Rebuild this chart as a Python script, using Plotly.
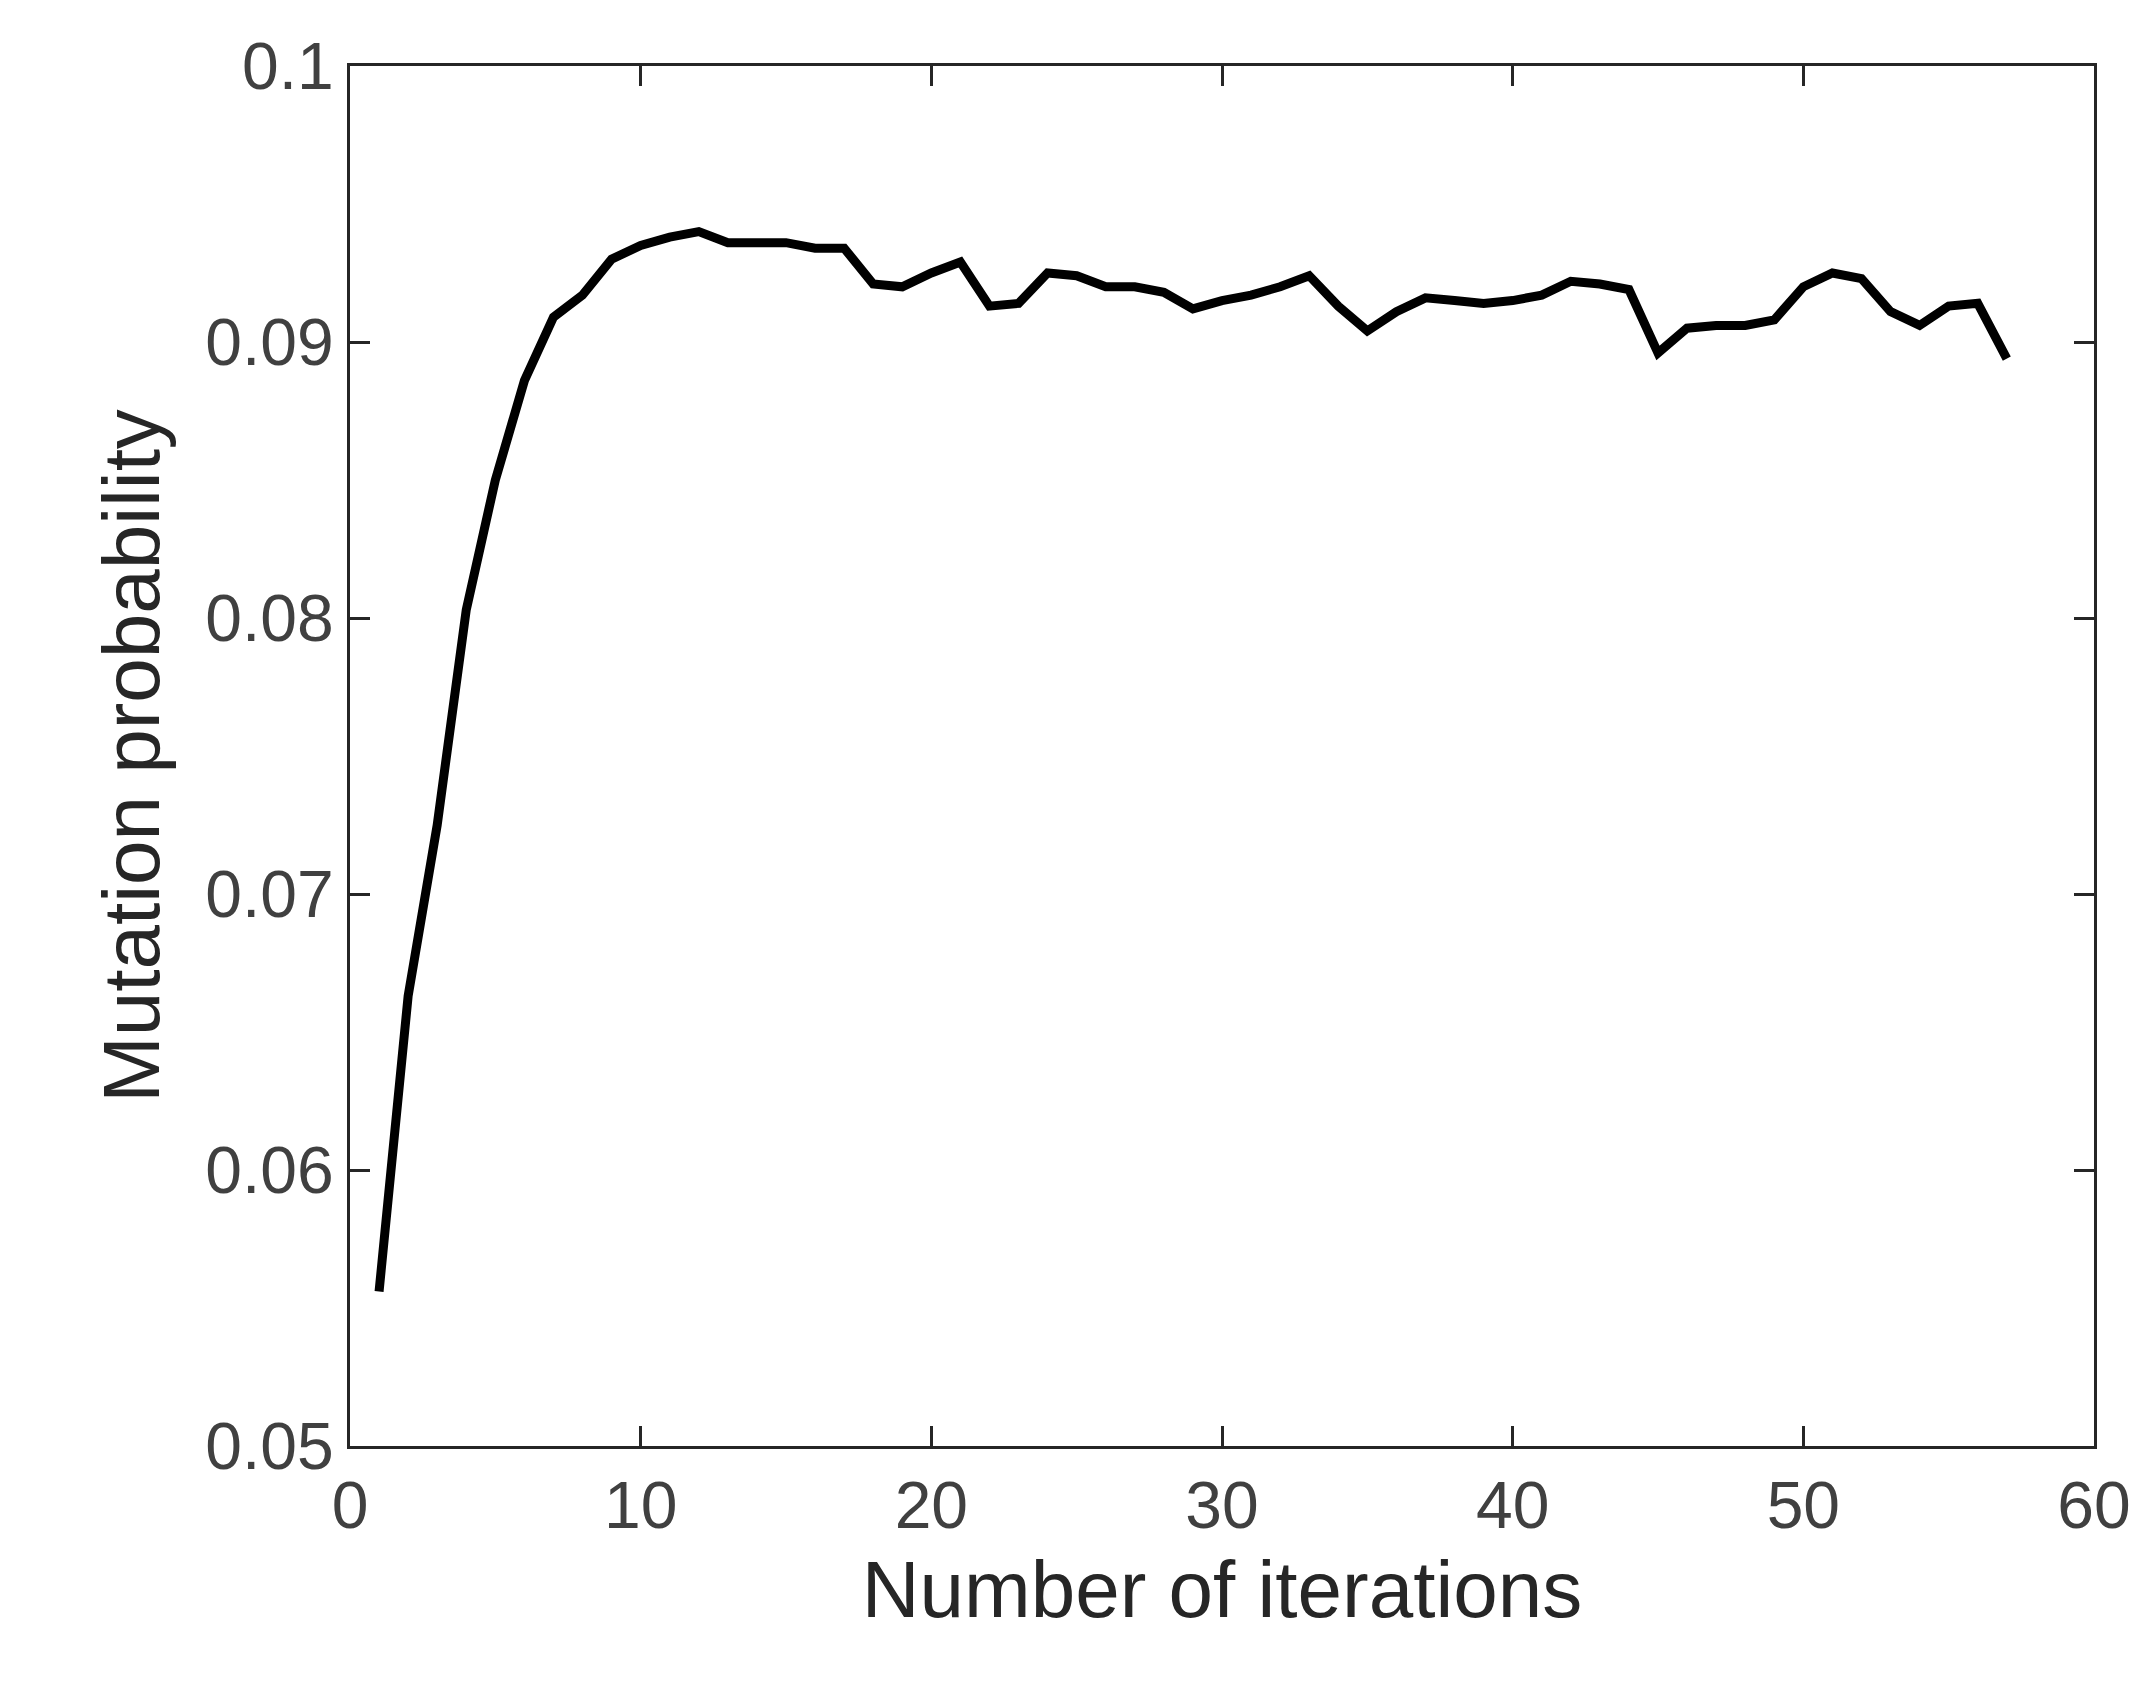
import plotly.graph_objects as go

iterations = list(range(1, 58))
mutation_prob = [0.0556, 0.0663, 0.0725, 0.0803, 0.0850, 0.0886, 0.0909, 0.0917, 0.0930, 0.0935,
                 0.0938, 0.0940, 0.0936, 0.0936, 0.0936, 0.0934, 0.0934, 0.0921, 0.0920, 0.0925,
                 0.0929, 0.0913, 0.0914, 0.0925, 0.0924, 0.0920, 0.0920, 0.0918, 0.0912, 0.0915,
                 0.0917, 0.0920, 0.0924, 0.0913, 0.0904, 0.0911, 0.0916, 0.0915, 0.0914, 0.0915,
                 0.0917, 0.0922, 0.0921, 0.0919, 0.0896, 0.0905, 0.0906, 0.0906, 0.0908, 0.0920,
                 0.0925, 0.0923, 0.0911, 0.0906, 0.0913, 0.0914, 0.0894]
x_ticks = [0, 10, 20, 30, 40, 50, 60]
y_ticks = [0.05, 0.06, 0.07, 0.08, 0.09, 0.1]
y_labels = ["0.05", "0.06", "0.07", "0.08", "0.09", "0.1"]

fig = go.Figure(go.Scatter(x=iterations, y=mutation_prob, mode="lines",
                           line=dict(color="black", width=9)))
axis_common = dict(showline=True, linecolor="#262626", linewidth=3, mirror="ticks",
                   ticks="inside", ticklen=20, tickwidth=3, tickcolor="#262626",
                   showgrid=False, zeroline=False,
                   tickfont=dict(family="Liberation Sans, Arial", size=66, color="#404040"))
fig.update_xaxes(range=[0, 60], tickvals=x_ticks, **axis_common,
                 title=dict(text="Number of iterations", standoff=20,
                            font=dict(family="Liberation Sans, Arial", size=80, color="#262626")))
fig.update_yaxes(range=[0.05, 0.1], tickvals=y_ticks, ticktext=y_labels, **axis_common,
                 title=dict(text="Mutation probability", standoff=20,
                            font=dict(family="Liberation Sans, Arial", size=80, color="#262626")))
fig.update_layout(width=2141, height=1682, plot_bgcolor="white", paper_bgcolor="white",
                  margin=dict(l=342, r=55, t=58, b=244), showlegend=False)
fig.write_html("out.html")
